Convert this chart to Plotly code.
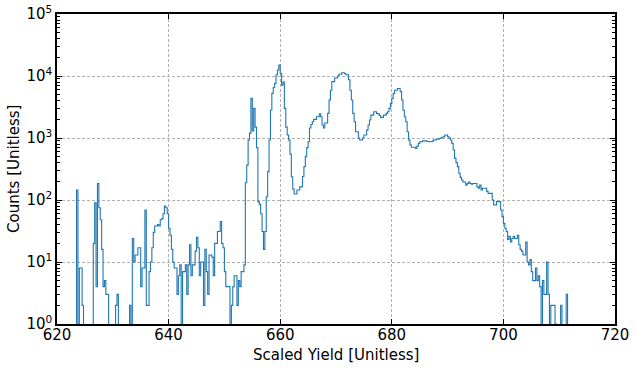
import numpy as np
import plotly.graph_objects as go

# Histogram definition (bin edges start / width), counts
bin_start = 623.5
bin_width = 0.25

counts_623_641 = [145, 0, 8, 8, 2, 0,
                  0, 0, 0, 0, 0, 0,
                  20, 90, 4, 185, 75, 48, 16, 4, 5, 3, 3, 0,
                  0, 0, 0, 0,
                  2, 3,
                  0, 0, 0, 0, 0, 0, 0, 0,
                  2, 0,
                  24, 10, 13, 13, 17, 17, 4, 8, 8, 69,
                  2, 2, 7, 10, 17, 30, 38, 38, 40, 38,
                  48, 50, 60, 80, 75, 60, 35, 27, 16, 10]
counts_641_654 = [8, 8, 3, 6, 9, 0, 7, 7, 9, 3,
                  9, 19, 6, 9, 9, 15, 25, 17, 6, 10,
                  10, 2, 16, 7, 3, 13, 13, 12, 6, 20,
                  20, 31, 31, 45, 20, 17, 7, 4, 4, 4,
                  0, 2, 4, 6, 6, 2, 5, 4, 7, 7,
                  9]
counts_654_662 = [190, 365, 930, 1200, 4350, 1300, 3000, 1500, 700, 94,
                  85, 60, 31, 16, 31, 113, 287, 930, 2800, 5250,
                  6500, 7600, 10500, 12500, 15000, 11000, 7100, 8000, 3000, 1500,
                  1120, 930, 550]
counts_662_684 = [237, 150, 125, 125, 145, 145, 163, 163, 240, 345,
                  500, 700, 870, 1450, 1650, 1830, 2000, 2000, 2200, 2200,
                  2450, 2200, 1620, 1450, 1750, 1750, 2500, 4100, 5900, 8100,
                  8100, 9300, 9300, 10000, 10700, 10700, 11300, 11300, 11000, 10500,
                  10500, 8700, 5900, 4100, 2500, 1830, 1260, 1260, 1000, 930,
                  930, 1000, 1120, 1120, 1350, 1620, 1950, 2340, 2340, 2650,
                  2650, 2500, 2450, 2300, 2150, 2150, 2340, 2340, 2500, 2650,
                  3000, 3620, 4350, 5250, 5900, 5900, 6300, 6300, 5600, 4100,
                  2800, 2200, 1830, 1260, 930, 770, 710, 710]
counts_684_700 = [710, 680, 740, 820, 870, 870, 900, 900, 900, 880,
                  880, 870, 870, 900, 930, 930, 960, 960, 980, 1000,
                  1030, 1050, 1120, 1120, 1050, 1000, 930, 820, 640, 470,
                  400, 345, 270, 232, 210, 195, 195, 174, 185, 195,
                  185, 180, 185, 185, 185, 163, 155, 175, 145, 155,
                  155, 155, 138, 128, 128, 128, 100, 83, 83, 94,
                  94, 94, 69, 54]
counts_700_712 = [42, 35, 31, 23, 26, 21, 24, 26, 24, 24,
                  27, 19, 16, 15, 13, 13, 21, 10, 9, 11,
                  7, 5, 5, 8, 5, 6, 4, 0, 5, 3,
                  3, 10, 3, 0, 2, 2, 2, 1, 0, 0,
                  0, 2, 0, 0, 0, 3, 0]

x_ticks = [620, 640, 660, 680, 700, 720]
y_ticks = [1, 10, 100, 1000, 10000, 100000]
y_tick_text = ["10<sup>0</sup>", "10<sup>1</sup>", "10<sup>2</sup>",
               "10<sup>3</sup>", "10<sup>4</sup>", "10<sup>5</sup>"]
x_title = "Scaled Yield [Unitless]"
y_title = "Counts [Unitless]"

counts = np.array(counts_623_641 + counts_641_654 + counts_654_662 +
                  counts_662_684 + counts_684_700 + counts_700_712, dtype=float)
edges = bin_start + bin_width * np.arange(len(counts) + 1)

# zero counts fall below the log axis, like matplotlib's step histogram
floor = 1e-3
c = np.where(counts > 0, counts, floor)
xs = np.concatenate([[edges[0]], edges[:-1], [edges[-1], edges[-1]]])
ys = np.concatenate([[floor], c, [c[-1], floor]])

fig = go.Figure()
fig.add_trace(go.Scatter(x=xs, y=ys, mode="lines", line_shape="hv",
                         line=dict(color="#1f77b4", width=1.1), showlegend=False,
                         hoverinfo="skip"))

minor_vals = [m * 10 ** k for k in range(0, 5) for m in range(2, 10)]
font = dict(family="DejaVu Sans", size=15, color="black")

L, R, T, B = 57, 21, 14, 45
fig.update_layout(
    width=636, height=369,
    margin=dict(l=L, r=R, t=T, b=B, autoexpand=False),
    paper_bgcolor="white", plot_bgcolor="white",
    font=font,
    annotations=[
        dict(text=x_title, xref="paper", yref="paper", x=0.5, y=0,
             yshift=-31, xanchor="center", yanchor="middle", showarrow=False,
             font=font),
        dict(text=y_title, xref="paper", yref="paper", x=0, y=0.5,
             xshift=-43, xanchor="center", yanchor="middle", showarrow=False,
             textangle=-90, font=font),
    ],
)
grid = dict(showgrid=True, gridcolor="#b0b0b0", griddash="3px,2px", gridwidth=0.8)
fig.update_xaxes(
    range=[620, 720], tickvals=x_ticks, ticks="inside", ticklen=5, tickwidth=1,
    tickcolor="black", showline=True, linecolor="black", linewidth=1.5,
    mirror="allticks", zeroline=False, tickfont=font, automargin=False,
    ticklabeloverflow="allow", ticklabelstandoff=-4, **grid,
)
fig.update_yaxes(
    type="log", range=[0, 5], tickvals=y_ticks, ticktext=y_tick_text,
    ticks="inside", ticklen=5, tickwidth=1, tickcolor="black",
    minor=dict(tickvals=minor_vals, ticks="inside", ticklen=3, tickcolor="black",
               showgrid=False),
    showline=True, linecolor="black", linewidth=1.5, mirror="allticks",
    zeroline=False, tickfont=font, automargin=False,
    ticklabeloverflow="allow", **grid,
)

# remove the default page margin so the figure sits at the window origin
fig.write_html("out.html", config={"displayModeBar": False},
               post_script="document.body.style.margin='0';")
